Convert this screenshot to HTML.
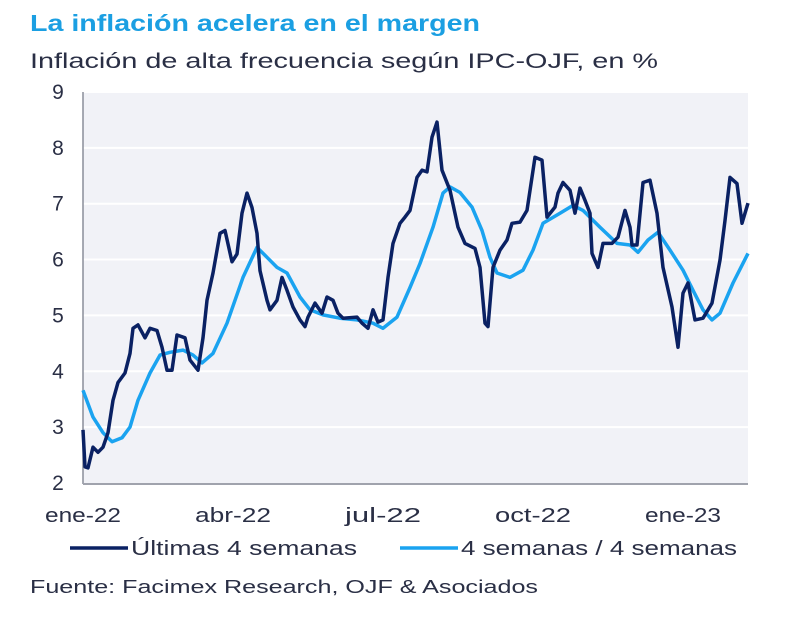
<!DOCTYPE html>
<html><head><meta charset="utf-8">
<style>
body{margin:0;background:#fff;width:800px;height:616px;overflow:hidden;font-family:"Liberation Sans",sans-serif}
svg text{font-family:"Liberation Sans",sans-serif}
</style></head>
<body>
<svg width="800" height="616" viewBox="0 0 800 616" id="chart">
<text x="30" y="31" font-size="23" font-weight="bold" fill="#1b9fe2" textLength="450" lengthAdjust="spacingAndGlyphs">La inflación acelera en el margen</text>
<text x="30" y="68" font-size="21" fill="#2a2f45" textLength="628" lengthAdjust="spacingAndGlyphs">Inflación de alta frecuencia según IPC-OJF, en %</text>
<rect x="83" y="92" width="665" height="391" fill="#f1f2f7"/>
<g id="grid"></g>
<g id="yticks"></g>
<g id="xticks"></g>
<line x1="83" y1="92" x2="83" y2="484" stroke="#8a8e9a" stroke-width="1.5"/>
<line x1="83" y1="484" x2="748" y2="484" stroke="#a0a3ad" stroke-width="2"/>
<g id="series"></g>
<line x1="70" y1="548" x2="128" y2="548" stroke="#0a2163" stroke-width="3.5"/>
<text x="131" y="555" font-size="20" fill="#2a2f45" textLength="226" lengthAdjust="spacingAndGlyphs">Últimas 4 semanas</text>
<line x1="400" y1="548" x2="458" y2="548" stroke="#1aa3f0" stroke-width="3.5"/>
<text x="461" y="555" font-size="20" fill="#2a2f45" textLength="276" lengthAdjust="spacingAndGlyphs">4 semanas / 4 semanas</text>
<text x="30" y="593" font-size="18" fill="#2a2f45" textLength="508" lengthAdjust="spacingAndGlyphs">Fuente: Facimex Research, OJF &amp; Asociados</text>
</svg>
<script>
const yTicks=[2,3,4,5,6,7,8,9];
const xLabels=["ene-22","abr-22","jul-22","oct-22","ene-23"];
const xLabelMonths=[0,3,6,9,12];
const darkT=[0,.04,.1,.2,.3,.4,.5,.6,.7,.84,.94,1.0,1.1,1.24,1.34,1.48,1.58,1.68,1.78,1.88,2.04,2.14,2.3,2.4,2.48,2.6,2.74,2.84,2.98,3.08,3.18,3.28,3.38,3.48,3.54,3.68,3.74,3.88,3.98,4.08,4.2,4.34,4.44,4.5,4.64,4.78,4.88,5.0,5.1,5.2,5.48,5.58,5.7,5.8,5.9,6.0,6.1,6.2,6.34,6.44,6.54,6.68,6.78,6.88,6.98,7.08,7.18,7.34,7.5,7.64,7.84,7.94,8.04,8.1,8.2,8.34,8.48,8.58,8.74,8.88,9.04,9.18,9.28,9.44,9.5,9.6,9.74,9.84,9.94,10.04,10.14,10.18,10.3,10.4,10.58,10.7,10.84,10.94,10.98,11.08,11.2,11.34,11.48,11.6,11.78,11.9,12.0,12.1,12.24,12.4,12.58,12.74,12.84,12.94,13.08,13.18,13.3];
const darkV=[2.95,2.29,2.27,2.64,2.55,2.64,2.9,3.48,3.8,3.97,4.32,4.77,4.83,4.6,4.77,4.73,4.43,4.02,4.02,4.65,4.6,4.2,4.02,4.6,5.27,5.76,6.47,6.52,5.96,6.1,6.83,7.19,6.93,6.47,5.8,5.27,5.1,5.27,5.68,5.45,5.15,4.92,4.8,4.97,5.22,5.04,5.33,5.27,5.04,4.95,4.97,4.86,4.77,5.1,4.88,4.92,5.68,6.29,6.65,6.76,6.88,7.47,7.6,7.57,8.19,8.46,7.6,7.24,6.58,6.29,6.2,5.86,4.86,4.8,5.86,6.17,6.35,6.65,6.67,6.88,7.83,7.78,6.76,6.94,7.19,7.38,7.24,6.83,7.28,7.06,6.83,6.11,5.86,6.29,6.29,6.4,6.88,6.58,6.26,6.26,7.38,7.42,6.83,5.86,5.15,4.43,5.4,5.58,4.92,4.95,5.22,5.99,6.7,7.47,7.36,6.65,7.01];
const lightT=[0,.2,.4,.58,.78,.94,1.1,1.34,1.54,1.74,2.0,2.2,2.38,2.6,2.88,3.2,3.48,3.68,3.88,4.08,4.34,4.54,4.8,5.14,5.48,5.8,6.0,6.28,6.54,6.74,7.0,7.2,7.34,7.54,7.78,7.98,8.14,8.28,8.54,8.8,9.0,9.2,9.54,9.8,10.0,10.34,10.68,10.94,11.1,11.3,11.5,11.74,12.0,12.2,12.4,12.58,12.74,13.0,13.3];
const lightV=[3.66,3.18,2.9,2.74,2.81,3.0,3.48,3.97,4.29,4.34,4.38,4.29,4.15,4.32,4.86,5.68,6.22,6.04,5.86,5.76,5.33,5.1,5.01,4.95,4.92,4.86,4.77,4.97,5.5,5.93,6.58,7.19,7.3,7.2,6.94,6.52,6.04,5.76,5.68,5.81,6.17,6.65,6.83,6.97,6.88,6.58,6.29,6.26,6.13,6.35,6.49,6.17,5.81,5.45,5.1,4.92,5.04,5.58,6.11];
const NS="http://www.w3.org/2000/svg";
const xS=t=>83+t*50;
const yS=v=>483-(v-2)*55.86;
const grid=document.getElementById('grid'),yt=document.getElementById('yticks'),xt=document.getElementById('xticks'),ser=document.getElementById('series');
yTicks.forEach(v=>{
  if(v>2){const l=document.createElementNS(NS,'line');
  l.setAttribute('x1',83);l.setAttribute('x2',748);l.setAttribute('y1',yS(v));l.setAttribute('y2',yS(v));
  l.setAttribute('stroke','#ffffff');l.setAttribute('stroke-width','2');
  
  
  grid.appendChild(l);}
  const t=document.createElementNS(NS,'text');
  t.setAttribute('x',58);t.setAttribute('y',yS(v)+7);t.setAttribute('font-size','21');t.setAttribute('fill','#2a2f45');t.setAttribute('text-anchor','middle');
  t.textContent=v;
  
  
  yt.appendChild(t);
});
xLabels.forEach((s,i)=>{
  const t=document.createElementNS(NS,'text');
  t.setAttribute('x',xS(xLabelMonths[i]));t.setAttribute('y',522);t.setAttribute('font-size','20');t.setAttribute('fill','#2a2f45');t.setAttribute('text-anchor','middle');
  t.setAttribute('textLength','76');t.setAttribute('lengthAdjust','spacingAndGlyphs');
  t.textContent=s;
  
  
  xt.appendChild(t);
});
function line(T,V,color,name){
  const p=document.createElementNS(NS,'polyline');
  p.setAttribute('points',T.map((t,i)=>xS(t).toFixed(1)+','+yS(V[i]).toFixed(1)).join(' '));
  p.setAttribute('fill','none');p.setAttribute('stroke',color);p.setAttribute('stroke-width','3.5');p.setAttribute('stroke-linejoin','round');
  
  
  ser.appendChild(p);
}
line(lightT,lightV,'#1aa3f0','series-4-semanas-4-semanas');
line(darkT,darkV,'#0a2163','series-ultimas-4-semanas');
</script>
</body></html>
